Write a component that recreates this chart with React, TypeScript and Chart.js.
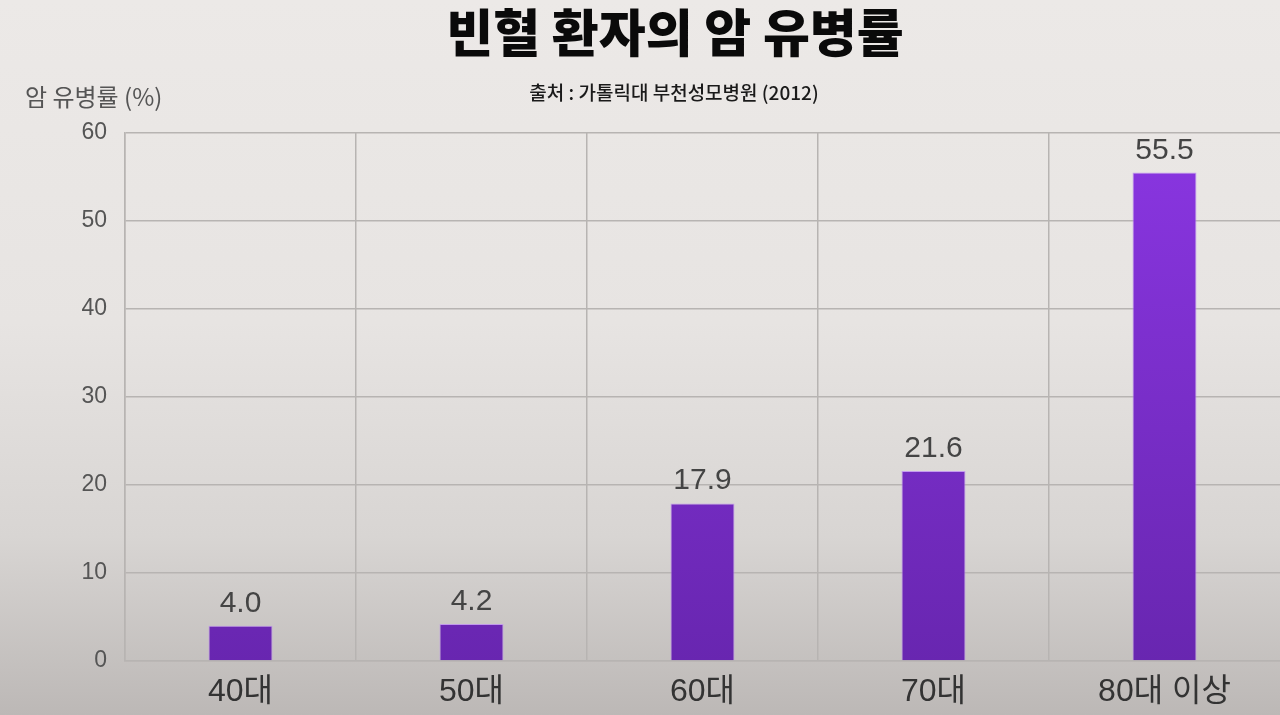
import React, { useEffect, useRef } from "react";
import { Chart, registerables } from "chart.js";

Chart.register(...registerables);

const TITLE = "빈혈 환자의 암 유병률";
const SUBTITLE = "출처 : 가톨릭대 부천성모병원 (2012)";
const Y_LABEL = "암 유병률 (%)";
const categories = ["40대", "50대", "60대", "70대", "80대 이상"];
const prevalence = [4.0, 4.2, 17.9, 21.6, 55.5];
const yTicks = [0, 10, 20, 30, 40, 50, 60];

const FONT = "'Liberation Sans', 'Noto Sans CJK KR', sans-serif";
const GRID = "#b7b4b2";

export default function App() {
  const ref = useRef<HTMLCanvasElement | null>(null);

  useEffect(() => {
    const canvas = ref.current;
    if (!canvas) return;

    const bgPlugin = {
      id: "bg",
      beforeDraw(chart: any) {
        const { ctx, width, height } = chart;
        ctx.save();
        const g = ctx.createLinearGradient(0, 0, 0, height);
        g.addColorStop(0, "#ece9e7");
        g.addColorStop(0.45, "#e7e4e2");
        g.addColorStop(0.75, "#d8d5d3");
        g.addColorStop(1, "#bcb8b6");
        ctx.fillStyle = g;
        ctx.fillRect(0, 0, width, height);
        ctx.restore();
      },
    };

    const textPlugin = {
      id: "texts",
      afterDraw(chart: any) {
        const { ctx } = chart;
        ctx.save();
        ctx.textAlign = "center";
        ctx.textBaseline = "middle";
        ctx.fillStyle = "#0a0a0a";
        ctx.font = "900 51px 'Noto Sans CJK KR', sans-serif";
        ctx.fillText(TITLE, 675, 33);
        ctx.font = "500 19px 'Noto Sans CJK KR', sans-serif";
        ctx.fillStyle = "#1a1a1a";
        ctx.fillText(SUBTITLE, 674, 93);
        ctx.textAlign = "left";
        ctx.font = "400 24px 'Noto Sans CJK KR', sans-serif";
        ctx.fillStyle = "#555555";
        ctx.fillText(Y_LABEL, 25, 97);

        // value labels
        const meta = chart.getDatasetMeta(0);
        ctx.textAlign = "center";
        ctx.textBaseline = "alphabetic";
        ctx.font = "30px " + FONT;
        ctx.fillStyle = "#444444";
        meta.data.forEach((bar: any, i: number) => {
          ctx.fillText(prevalence[i].toFixed(1), bar.x, bar.y - 14);
        });
        ctx.restore();
      },
    };

    const chart = new Chart(canvas, {
      type: "bar",
      data: {
        labels: categories,
        datasets: [
          {
            data: prevalence,
            backgroundColor: (ctx: any) => {
              const area = ctx.chart.chartArea;
              if (!area) return "#7a2ecc";
              const g = ctx.chart.ctx.createLinearGradient(0, area.top, 0, area.bottom);
              g.addColorStop(0, "#8a36e2");
              g.addColorStop(1, "#6826b0");
              return g;
            },
            borderColor: "rgba(190,140,245,0.8)",
            borderWidth: 1,
            barPercentage: 0.277,
            categoryPercentage: 1,
          },
        ],
      },
      options: {
        responsive: false,
        animation: false,
        layout: { padding: { top: 133, left: 0, right: 0, bottom: 0 } },
        plugins: {
          legend: { display: false },
          tooltip: { enabled: false },
          title: { display: false },
        },
        scales: {
          x: {
            grid: {
              color: (c: any) => (c.type === "tick" ? GRID : "rgba(0,0,0,0)"),
              lineWidth: 1.5,
              drawTicks: false,
            },
            border: { color: GRID, width: 1.5 },
            ticks: {
              color: "#333333",
              font: { size: 32, family: FONT },
              padding: 12,
            },
            afterFit(scale: any) {
              scale.height = 54;
            },
          },
          y: {
            min: 0,
            max: 60,
            afterBuildTicks(scale: any) {
              scale.ticks = yTicks.map((v) => ({ value: v }));
            },
            grid: { color: GRID, lineWidth: 1.5, drawTicks: false },
            border: { color: GRID, width: 1.5 },
            ticks: {
              color: "#555555",
              font: { size: 23, family: FONT },
              padding: 18,
            },
            afterFit(scale: any) {
              scale.width = 125;
            },
          },
        },
      },
      plugins: [bgPlugin, textPlugin],
    } as any);

    return () => chart.destroy();
  }, []);

  return (
    <div style={{ position: "fixed", left: 0, top: 0, width: 1280, height: 715 }}>
      <canvas ref={ref} width={1280} height={715} style={{ display: "block" }} />
    </div>
  );
}
